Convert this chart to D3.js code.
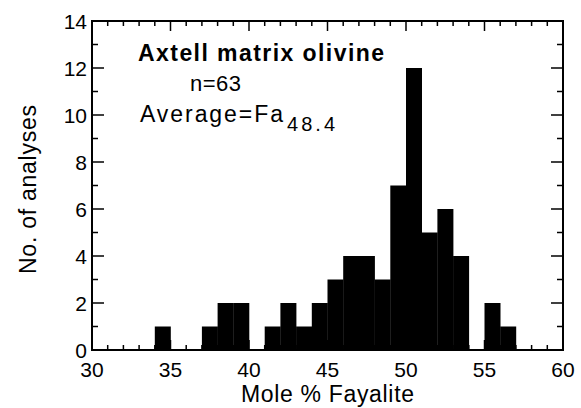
<!DOCTYPE html>
<html>
<head>
<meta charset="utf-8">
<script src="https://cdn.jsdelivr.net/npm/d3@7"></script>
<style>
  body { margin: 0; background: #fff; }
  text { font-family: "Liberation Sans", Arial, Helvetica, sans-serif; fill: #000; }
</style>
</head>
<body>
<svg width="581" height="408"></svg>
<script>
// histogram bins (1 mol% wide), lower edge and count
var binStart = [34, 37, 38, 39, 41, 42, 43, 44, 45, 46, 47, 48, 49, 50, 51, 52, 53, 55, 56];
var binCount = [1, 1, 2, 2, 1, 2, 1, 2, 3, 4, 4, 3, 7, 12, 5, 6, 4, 2, 1];
var xTickLabels = [30, 35, 40, 45, 50, 55, 60];
var yTickLabels = [0, 2, 4, 6, 8, 10, 12, 14];

var svg = d3.select("svg");
var x = d3.scaleLinear().domain([30, 60]).range([92, 563]);
var y = d3.scaleLinear().domain([0, 14]).range([350, 21]);

var bins = binStart.map(function (d, i) {
  return { x0: d, x1: d + 1, n: binCount[i] };
});

svg.append("g")
  .selectAll("rect")
  .data(bins)
  .enter()
  .append("rect")
  .attr("x", function (d) { return x(d.x0); })
  .attr("width", function (d) { return x(d.x1) - x(d.x0) + 0.3; })
  .attr("y", function (d) { return y(d.n); })
  .attr("height", function (d) { return y(0) - y(d.n); })
  .attr("fill", "#000");

// inward ticks on all four sides
var xt = d3.range(31, 60);
var yt = d3.range(1, 14);
var ticks = svg.append("g").attr("stroke", "#000").attr("stroke-width", 1.5);
xt.forEach(function (v) {
  var len = v % 5 === 0 ? 10 : 5;
  ticks.append("line").attr("x1", x(v)).attr("x2", x(v)).attr("y1", y(0)).attr("y2", y(0) - len);
  ticks.append("line").attr("x1", x(v)).attr("x2", x(v)).attr("y1", y(14)).attr("y2", y(14) + len);
});
yt.forEach(function (v) {
  var len = v % 2 === 0 ? 12 : 6;
  ticks.append("line").attr("x1", x(30)).attr("x2", x(30) + len).attr("y1", y(v)).attr("y2", y(v));
  ticks.append("line").attr("x1", x(60)).attr("x2", x(60) - len).attr("y1", y(v)).attr("y2", y(v));
});

svg.append("rect")
  .attr("x", x(30)).attr("y", y(14))
  .attr("width", x(60) - x(30)).attr("height", y(0) - y(14))
  .attr("fill", "none").attr("stroke", "#000").attr("stroke-width", 2);

svg.append("g")
  .selectAll("text")
  .data(yTickLabels)
  .enter()
  .append("text")
  .attr("x", 87)
  .attr("y", function (d) { return y(d) + 7.5; })
  .attr("text-anchor", "end")
  .attr("font-size", 21)
  .text(function (d) { return d; });

svg.append("g")
  .selectAll("text")
  .data(xTickLabels)
  .enter()
  .append("text")
  .attr("x", function (d) { return x(d); })
  .attr("y", 377)
  .attr("text-anchor", "middle")
  .attr("font-size", 21)
  .text(function (d) { return d; });

svg.append("text")
  .attr("x", 241).attr("y", 402)
  .attr("font-size", 23)
  .attr("textLength", 173).attr("lengthAdjust", "spacing")
  .text("Mole % Fayalite");

svg.append("text")
  .attr("transform", "translate(36,274) rotate(-90)")
  .attr("font-size", 23)
  .attr("textLength", 169).attr("lengthAdjust", "spacing")
  .text("No. of analyses");

svg.append("text")
  .attr("x", 138).attr("y", 61)
  .attr("font-size", 23).attr("font-weight", "bold")
  .attr("textLength", 246).attr("lengthAdjust", "spacing")
  .text("Axtell matrix olivine");

svg.append("text")
  .attr("x", 190).attr("y", 91)
  .attr("font-size", 22)
  .attr("textLength", 51).attr("lengthAdjust", "spacing")
  .text("n=63");

svg.append("text")
  .attr("x", 140).attr("y", 122)
  .attr("font-size", 23)
  .attr("textLength", 143).attr("lengthAdjust", "spacing")
  .text("Average=Fa");

svg.append("text")
  .attr("x", 287).attr("y", 131)
  .attr("font-size", 20)
  .attr("textLength", 48).attr("lengthAdjust", "spacing")
  .text("48.4");
</script>
</body>
</html>
